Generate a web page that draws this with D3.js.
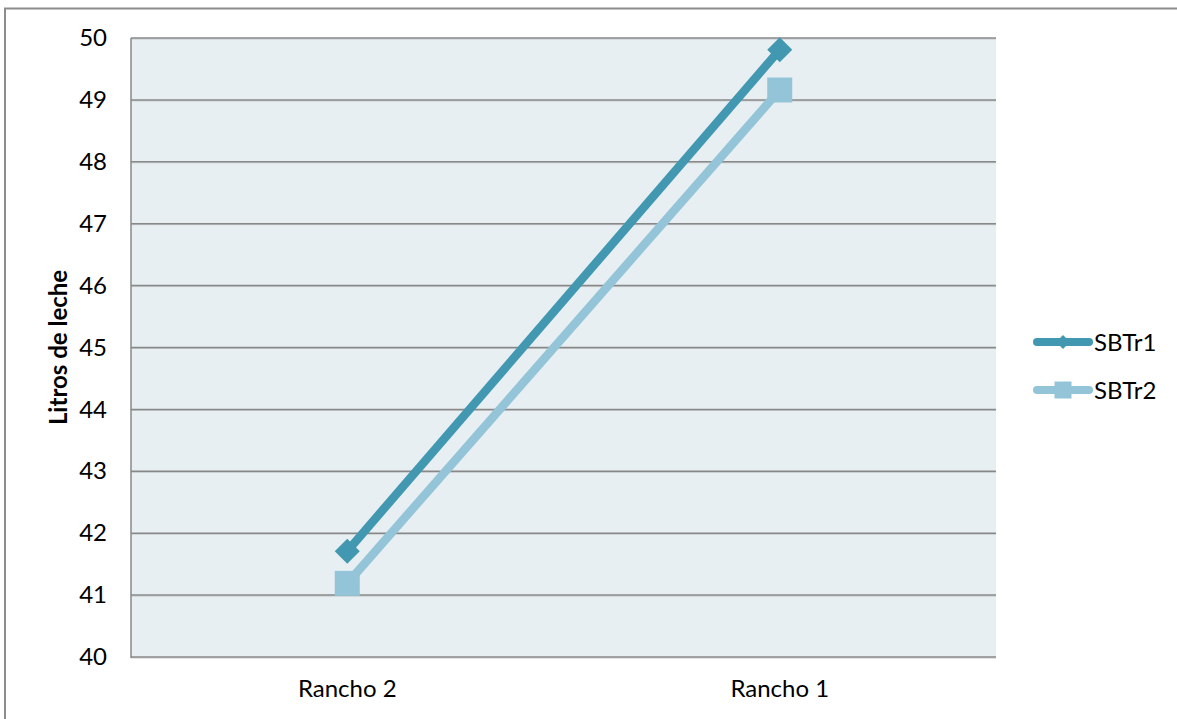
<!DOCTYPE html>
<html>
<head>
<meta charset="utf-8">
<script src="https://cdn.jsdelivr.net/npm/d3@7"></script>
<style>
  html, body { margin: 0; padding: 0; background: #ffffff; }
  svg { display: block; }
  text { font-family: Lato, "Open Sans", sans-serif; fill: #000; }
</style>
</head>
<body>
<svg id="chart" width="1177" height="719"></svg>
<script>
// Categories along the x axis
const categories = ["Rancho 2", "Rancho 1"];
// Series values (litres of milk)
const seriesNames = ["SBTr1", "SBTr2"];
const sbtr1 = [41.71, 49.81];
const sbtr2 = [41.19, 49.16];
// Y axis ticks
const yTicks = [40, 41, 42, 43, 44, 45, 46, 47, 48, 49, 50];
const yTitle = "Litros de leche";

const colors = { SBTr1: "#4198b0", SBTr2: "#93c4d7" };
const series = [
  { name: seriesNames[0], values: sbtr1, marker: "diamond" },
  { name: seriesNames[1], values: sbtr2, marker: "square" }
];

const svg = d3.select("#chart");
const W = 1177, H = 719;
const plot = { left: 131, right: 996, top: 38, bottom: 657 };

// Outer chart border
svg.append("rect")
  .attr("x", 5).attr("y", 8.5)
  .attr("width", W + 10).attr("height", H + 10)
  .attr("fill", "#fff")
  .attr("stroke", "#8c8c8c").attr("stroke-width", 2);

const x = d3.scaleBand().domain(categories).range([plot.left, plot.right]).padding(0);
const y = d3.scaleLinear().domain([40, 50]).range([plot.bottom, plot.top]);

// Plot area background
svg.append("rect")
  .attr("x", plot.left).attr("y", plot.top)
  .attr("width", plot.right - plot.left).attr("height", plot.bottom - plot.top)
  .attr("fill", "#e8eff3");

// Horizontal gridlines
const grid = svg.append("g");
grid.selectAll("line.g1").data(yTicks).join("line")
  .attr("x1", plot.left).attr("x2", plot.right)
  .attr("y1", d => y(d) + 1).attr("y2", d => y(d) + 1)
  .attr("stroke", "#c4c8ca").attr("stroke-width", 1);
grid.selectAll("line.g0").data(yTicks).join("line")
  .attr("x1", plot.left).attr("x2", plot.right)
  .attr("y1", d => y(d)).attr("y2", d => y(d))
  .attr("stroke", "#888888").attr("stroke-width", 1.5);

// Left axis line
svg.append("line")
  .attr("x1", plot.left).attr("x2", plot.left)
  .attr("y1", plot.top).attr("y2", plot.bottom + 1)
  .attr("stroke", "#888888").attr("stroke-width", 1.5);

// Y axis tick labels
const yAxis = d3.axisLeft(y).tickValues(yTicks).tickSize(0).tickPadding(24).tickFormat(d3.format("d"));
const yg = svg.append("g").attr("transform", `translate(${plot.left},0)`).call(yAxis);
yg.select(".domain").remove();
yg.selectAll("text").attr("font-size", 24).attr("font-family", "Lato, sans-serif").attr("fill", "#000");

// X axis category labels
const xAxis = d3.axisBottom(x).tickSize(0).tickPadding(23);
const xg = svg.append("g").attr("transform", `translate(0,${plot.bottom})`).call(xAxis);
xg.select(".domain").remove();
xg.selectAll("text").attr("font-size", 24).attr("font-family", "Lato, sans-serif").attr("fill", "#000");

// Y axis title
svg.append("text")
  .attr("transform", `translate(67,${(plot.top + plot.bottom) / 2}) rotate(-90)`)
  .attr("text-anchor", "middle")
  .attr("font-weight", "bold")
  .attr("font-size", 24)
  .text(yTitle);

const cx = d => x(d) + x.bandwidth() / 2;

function drawMarker(g, type, px, py, size, color) {
  if (type === "diamond") {
    g.append("path")
      .attr("d", `M${px},${py - size} L${px + size},${py} L${px},${py + size} L${px - size},${py} Z`)
      .attr("fill", color);
  } else {
    g.append("rect")
      .attr("x", px - size).attr("y", py - size)
      .attr("width", size * 2).attr("height", size * 2)
      .attr("fill", color);
  }
}

// Series lines (SBTr2 drawn beneath SBTr1)
const line = d3.line().x((d, i) => cx(categories[i])).y(d => y(d));
const marks = svg.append("g");
[series[1], series[0]].forEach(s => {
  const g = marks.append("g");
  g.append("path")
    .attr("d", line(s.values))
    .attr("fill", "none")
    .attr("stroke", colors[s.name])
    .attr("stroke-width", 8.5);
  s.values.forEach((v, i) => {
    drawMarker(g, s.marker, cx(categories[i]), y(v), 12.5, colors[s.name]);
  });
});

// Legend
const legend = svg.append("g");
const legendY = [342, 390];
series.forEach((s, i) => {
  const ly = legendY[i];
  legend.append("line")
    .attr("x1", 1037).attr("x2", 1089)
    .attr("y1", ly).attr("y2", ly)
    .attr("stroke", colors[s.name]).attr("stroke-width", 8)
    .attr("stroke-linecap", "round");
  drawMarker(legend, s.marker, 1063, ly, s.marker === "diamond" ? 7 : 8.5, colors[s.name]);
  legend.append("text")
    .attr("x", 1094).attr("y", ly)
    .attr("dy", "0.36em")
    .attr("font-size", 24)
    .text(s.name);
});
</script>
</body>
</html>
